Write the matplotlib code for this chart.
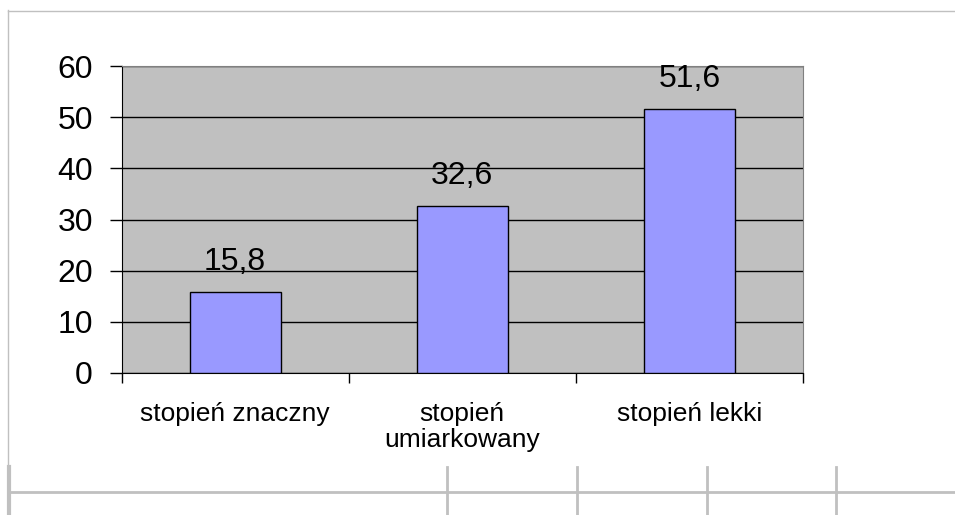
import matplotlib.pyplot as plt

# data
categories = ['stopień znaczny', 'stopień\numiarkowany', 'stopień lekki']
values = [15.8, 32.6, 51.6]
labels = ['15,8', '32,6', '51,6']
yticks = [0, 10, 20, 30, 40, 50, 60]

plt.rcParams['font.family'] = ['Liberation Sans', 'DejaVu Sans']

W, H = 955, 515
fig = plt.figure(figsize=(W / 100, H / 100), dpi=100)

# spreadsheet background lines (pixel coords)
bg = fig.add_axes([0, 0, 1, 1], zorder=0)
bg.set_xlim(0, W)
bg.set_ylim(H, 0)
bg.axis('off')
cell = '#c0c0c0'
bg.plot([8, W], [10.5, 10.5], color=cell, lw=1)
bg.plot([8, 8], [10, 467], color=cell, lw=1)
bg.plot([9, 9], [467, H], color=cell, lw=3)
bg.plot([9, W], [492, 492], color=cell, lw=2)
for x in [447, 577, 707, 836]:
    bg.plot([x, x], [467, H], color=cell, lw=2)

# chart
ax = fig.add_axes([121.5 / W, 1 - 373 / H, (803 - 121.5) / W, (373 - 66) / H], zorder=1)
ax.set_facecolor('#c0c0c0')
pos = list(range(len(categories)))
bars = ax.bar(pos, values, width=0.4, color='#9999ff', edgecolor='black', linewidth=1, zorder=3)

ax.set_xlim(-0.5, len(categories) - 0.5)
ax.set_ylim(0, 60)
ax.set_yticks(yticks)
ax.set_yticklabels([str(t) for t in yticks], fontsize=23)
ax.yaxis.grid(True, color='black', linewidth=1)
ax.set_axisbelow(True)
ax.tick_params(axis='y', direction='out', length=8.6, width=1, pad=12)

ax.set_xticks(pos)
ax.set_xticklabels(categories, fontsize=19, linespacing=1.1, va='top')
ax.set_xticks([p - 0.5 for p in pos] + [pos[-1] + 0.5], minor=True)
ax.tick_params(axis='x', which='major', length=0, pad=21)
ax.tick_params(axis='x', which='minor', direction='out', length=7, width=1)

for side in ['left', 'bottom']:
    ax.spines[side].set_color('black')
for side in ['top', 'right']:
    ax.spines[side].set_color('#808080')

for b, lab in zip(bars, labels):
    ax.annotate(lab, (b.get_x() + b.get_width() / 2, b.get_height()),
                xytext=(0, 16), textcoords='offset points',
                ha='center', va='baseline', fontsize=23)

fig.savefig('out.png', dpi=100)
